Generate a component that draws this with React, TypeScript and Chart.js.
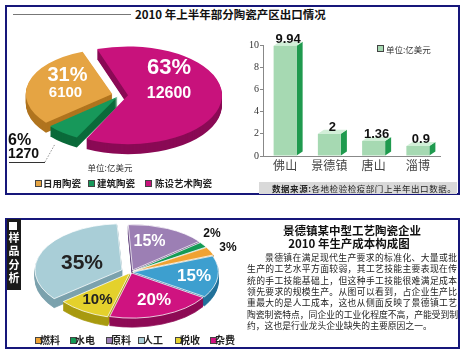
import React, { useEffect, useRef } from "react";
import { Chart, registerables } from "chart.js";

Chart.register(...registerables);

// ---------- data ----------
const exportCategories = ["日用陶瓷", "建筑陶瓷", "陈设艺术陶瓷"];
const exportValues = [6100, 1270, 12600];
const exportPercents = ["31%", "6%", "63%"];

const regions = ["佛山", "景德镇", "唐山", "淄博"];
const regionValues = [9.94, 2, 1.36, 0.9];
const regionTicks = [0, 2, 4, 6, 8, 10];

const costCategories = ["原料", "水电", "燃料", "其他", "杂费", "税收", "人工"];
const costValues = [15, 2, 3, 15, 20, 10, 35];
const costLegend = ["燃料", "水电", "原料", "人工", "税收", "杂费"];

const paragraph = [
  "景德镇在满足现代生产要求的标准化、大量或批",
  "生产的工艺水平方面较弱，其工艺技能主要表现在传",
  "统的手工技能基础上，但这种手工技能很难满足成本",
  "领先要求的规模生产。从图可以看到，占企业生产比",
  "重最大的是人工成本，这也从侧面反映了景德镇工艺",
  "陶瓷制瓷特点，同企业的工业化程度不高，产能受到制",
  "约，这也是行业龙头企业缺失的主要原因之一。",
];

// ---------- styles ----------
const CJK = '"Noto Sans CJK SC", "Noto Sans", sans-serif';
const NUM = '"Liberation Sans", Arial, sans-serif';
const NAVY = "#16177a";

const exportColors = ["#e5a443", "#17985a", "#c8127c"];
const exportSides = ["#b0741e", "#0b6a3a", "#8a0a55"];
const exportOffsets = [32, 16, 32];
const topOrder = [2, 1, 0];

const costColors: Record<string, string> = {
  原料: "#9c7fb4", 水电: "#139a55", 燃料: "#f0a232", 其他: "#3d9fcf",
  杂费: "#cf1380", 税收: "#e4d12c", 人工: "#a9ced7",
};
const costSides: Record<string, string> = {
  原料: "#6c4f86", 水电: "#0a6a38", 燃料: "#b67616", 其他: "#22719a",
  杂费: "#8e0b55", 税收: "#a89a10", 人工: "#7ba2ad",
};
const costOffsets: Record<string, number> = {
  原料: 16, 水电: 8, 燃料: 8, 其他: 8, 杂费: 8, 税收: 8, 人工: 40,
};

// ---------- plugins ----------
const pie3d = {
  id: "pie3d",
  beforeDatasetsDraw(chart: any, _args: any, opts: any) {
    const { ctx, chartArea } = chart;
    const cx = (chartArea.left + chartArea.right) / 2;
    const cy = (chartArea.top + chartArea.bottom) / 2;
    const sy = opts.scaleY;
    ctx.save();
    ctx.translate(cx, cy);
    ctx.scale(1, sy);
    ctx.translate(-cx, -cy);
    const meta = chart.getDatasetMeta(0);
    for (let d = opts.depth; d >= 1; d--) {
      ctx.save();
      ctx.translate(0, d / sy);
      meta.data.forEach((arc: any, i: number) => {
        const orig = arc.options;
        const c = opts.sideColors[i];
        arc.options = { ...orig, backgroundColor: c, borderColor: c };
        arc.draw(ctx);
        arc.options = orig;
      });
      ctx.restore();
    }
  },
  afterDatasetsDraw(chart: any) {
    chart.ctx.restore();
  },
};

const bar3d = {
  id: "bar3d",
  beforeDatasetsDraw(chart: any, _args: any, opts: any) {
    const ctx = chart.ctx;
    const meta = chart.getDatasetMeta(0);
    const { dx, dy } = opts;
    meta.data.forEach((bar: any) => {
      const { x, y, base, width } = bar.getProps(["x", "y", "base", "width"], true);
      const l = x - width / 2;
      const r = x + width / 2;
      ctx.save();
      ctx.fillStyle = opts.side;
      ctx.beginPath();
      ctx.moveTo(r, y);
      ctx.lineTo(r + dx, y - dy);
      ctx.lineTo(r + dx, base - dy);
      ctx.lineTo(r, base);
      ctx.closePath();
      ctx.fill();
      ctx.fillStyle = opts.top;
      ctx.beginPath();
      ctx.moveTo(l, y);
      ctx.lineTo(l + dx, y - dy);
      ctx.lineTo(r + dx, y - dy);
      ctx.lineTo(r, y);
      ctx.closePath();
      ctx.fill();
      ctx.restore();
    });
  },
  afterDatasetsDraw(chart: any, _args: any, opts: any) {
    const ctx = chart.ctx;
    const meta = chart.getDatasetMeta(0);
    const values = chart.data.datasets[0].data;
    ctx.save();
    ctx.font = `bold 13px ${NUM}`;
    ctx.fillStyle = "#111";
    ctx.textAlign = "center";
    ctx.textBaseline = "alphabetic";
    meta.data.forEach((bar: any, i: number) => {
      const { x, y } = bar.getProps(["x", "y"], true);
      ctx.fillText(String(values[i]), x + opts.dx / 2, y - 3);
    });
    ctx.restore();
  },
};

// ---------- components ----------
function ChartBox({ make, left, top, width, height }: any) {
  const ref = useRef<HTMLCanvasElement>(null);
  useEffect(() => {
    const chart = new Chart(ref.current as HTMLCanvasElement, make());
    return () => chart.destroy();
  }, []);
  return (
    <canvas
      ref={ref}
      width={width}
      height={height}
      style={{ position: "absolute", left, top, width, height, display: "block" }}
    />
  );
}

function Txt({ x, y, children, size = 10, color = "#111", weight = 400, family = NUM, anchor = "center", style }: any) {
  const tx = anchor === "center" ? "-50%" : anchor === "right" ? "-100%" : "0";
  return (
    <div
      style={{
        position: "absolute",
        left: x,
        top: y,
        transform: `translate(${tx}, -50%)`,
        fontSize: size,
        color,
        fontWeight: weight,
        fontFamily: family,
        whiteSpace: "nowrap",
        lineHeight: 1,
        ...style,
      }}
    >
      {children}
    </div>
  );
}

function Swatch({ x, y, color }: any) {
  return (
    <div
      style={{
        position: "absolute",
        left: x,
        top: y,
        width: 7,
        height: 7,
        background: color,
        boxSizing: "border-box",
        border: "1px solid #444",
      }}
    />
  );
}

const makeExportPie = () => ({
  type: "pie",
  data: {
    labels: topOrder.map((i) => exportCategories[i]),
    datasets: [
      {
        data: topOrder.map((i) => exportValues[i]),
        backgroundColor: topOrder.map((i) => exportColors[i]),
        offset: topOrder.map((i) => exportOffsets[i]),
        borderWidth: 0,
        radius: 86,
        clip: false,
      },
    ],
  },
  options: {
    responsive: false,
    animation: false,
    events: [],
    rotation: -20,
    layout: { padding: 0 },
    plugins: {
      legend: { display: false },
      tooltip: { enabled: false },
      pie3d: { scaleY: 0.52, depth: 10, sideColors: topOrder.map((i) => exportSides[i]) },
    },
  },
  plugins: [pie3d],
});

const makeCostPie = () => ({
  type: "pie",
  data: {
    labels: costCategories,
    datasets: [
      {
        data: costValues,
        backgroundColor: costCategories.map((c) => costColors[c]),
        offset: costCategories.map((c) => costOffsets[c]),
        borderWidth: 1,
        borderColor: "#ffffff",
        radius: 85,
        clip: false,
      },
    ],
  },
  options: {
    responsive: false,
    animation: false,
    events: [],
    rotation: -3,
    layout: { padding: 0 },
    plugins: {
      legend: { display: false },
      tooltip: { enabled: false },
      pie3d: { scaleY: 0.53, depth: 9, sideColors: costCategories.map((c) => costSides[c]) },
    },
  },
  plugins: [pie3d],
});

const makeBars = () => ({
  type: "bar",
  data: {
    labels: regions,
    datasets: [
      {
        data: regionValues,
        backgroundColor: "#a6d9b2",
        borderWidth: 0,
        barPercentage: 0.52,
        categoryPercentage: 1,
      },
    ],
  },
  options: {
    responsive: false,
    animation: false,
    events: [],
    layout: { padding: { top: 15, right: 10, left: 0, bottom: 0 } },
    plugins: {
      legend: { display: false },
      tooltip: { enabled: false },
      bar3d: { dx: 6, dy: 4, side: "#1f9a4e", top: "#d2efd8" },
    },
    scales: {
      x: {
        grid: { display: false, drawTicks: false },
        border: { display: true, color: "#888" },
        ticks: { font: { family: CJK, size: 12 }, color: "#444", padding: 2 },
        afterFit: (s: any) => {
          s.height = 24;
        },
      },
      y: {
        min: 0,
        max: 10,
        afterBuildTicks: (s: any) => {
          s.ticks = regionTicks.map((v) => ({ value: v }));
        },
        ticks: { font: { family: '"Liberation Serif", serif', size: 10 }, color: "#333", padding: 1 },
        grid: { drawOnChartArea: false, tickLength: 3, color: "#888" },
        border: { display: true, color: "#888" },
        afterFit: (s: any) => {
          s.width = 23;
        },
      },
    },
  },
  plugins: [bar3d],
});

export default function App() {
  const legendTop = [
    { sx: 35, tx: 43 },
    { sx: 88, tx: 97 },
    { sx: 145, tx: 155 },
  ];
  const legendBottomX = [35, 70, 106, 138, 175, 210];
  return (
    <div
      style={{
        position: "absolute",
        left: 0,
        top: 0,
        width: 466,
        height: 353,
        overflow: "hidden",
        background: "#fff",
        fontFamily: CJK,
      }}
    >
      {/* top frame */}
      <div
        style={{
          position: "absolute",
          left: 5,
          top: 5,
          width: 455,
          height: 190,
          boxSizing: "border-box",
          border: `2px solid ${NAVY}`,
        }}
      />
      <div style={{ position: "absolute", left: 13, top: 14, width: 118, height: 1, background: "#777" }} />
      <Txt x={135} y={15} size={11.5} weight={700} family={CJK} anchor="left" color="#111">
        2010 年上半年部分陶瓷产区出口情况
      </Txt>

      <ChartBox make={makeExportPie} left={0} top={-25} width={240} height={240} />

      <Txt x={169} y={66.5} size={22} weight={700} color="#fff">{exportPercents[2]}</Txt>
      <Txt x={169} y={92.5} size={16} weight={700} color="#fff">{exportValues[2]}</Txt>
      <Txt x={67.5} y={73.5} size={20} weight={700} color="#fff">{exportPercents[0]}</Txt>
      <Txt x={65.5} y={91} size={15} weight={700} color="#fff">{exportValues[0]}</Txt>
      <Txt x={8} y={140} size={16} weight={700} color="#111" anchor="left">{exportPercents[1]}</Txt>
      <Txt x={8} y={153} size={14} weight={700} color="#111" anchor="left">{exportValues[1]}</Txt>
      <div style={{ position: "absolute", left: 9, top: 162, width: 36, height: 1, background: "#333" }} />
      <svg style={{ position: "absolute", left: 0, top: 0 }} width={466} height={353}>
        <line x1={45} y1={162} x2={55} y2={144} stroke="#777" strokeWidth={0.8} strokeDasharray="1.5 1.5" />
      </svg>

      <Txt x={110} y={166.5} size={8.5} color="#333" family={CJK}>单位:亿美元</Txt>
      {exportCategories.map((c, i) => (
        <React.Fragment key={c}>
          <Swatch x={legendTop[i].sx} y={180} color={exportColors[i]} />
          <Txt x={legendTop[i].tx} y={183.5} size={9.5} weight={700} family={CJK} anchor="left" color="#222">
            {c}
          </Txt>
        </React.Fragment>
      ))}

      <ChartBox make={makeBars} left={240} top={30} width={210} height={150} />
      <Swatch x={377} y={45} color="#a6d9b2" />
      <Txt x={386} y={48.5} size={8.5} family={CJK} anchor="left" color="#333">单位:亿美元</Txt>

      <div style={{ position: "absolute", left: 259, top: 182, width: 198, height: 12, background: "#d9d9d9" }} />
      <Txt x={272} y={188} size={8.5} family={CJK} anchor="left" color="#222" style={{ letterSpacing: 0.55 }}>
        <span style={{ fontWeight: 700 }}>数据来源:</span>各地检验检疫部门上半年出口数据。
      </Txt>

      {/* bottom frame */}
      <div
        style={{
          position: "absolute",
          left: 5,
          top: 218,
          width: 455,
          height: 131,
          boxSizing: "border-box",
          border: `2px solid ${NAVY}`,
        }}
      />
      <div style={{ position: "absolute", left: 7, top: 219, width: 14, height: 71, background: "#1a1a1a" }} />
      <div style={{ position: "absolute", left: 9, top: 222, width: 8, height: 8, background: "#fff" }} />
      {["样", "品", "分", "析"].map((ch, i) => (
        <Txt key={ch} x={14} y={237 + i * 13.4} size={11} weight={700} family={CJK} color="#fff">
          {ch}
        </Txt>
      ))}

      <ChartBox make={makeCostPie} left={11} top={152} width={240} height={240} />

      <Txt x={82} y={260.5} size={21} weight={700} color="#222">{costValues[6]}%</Txt>
      <Txt x={149.5} y={241} size={16} weight={700} color="#fff">{costValues[0]}%</Txt>
      <Txt x={212} y={232.5} size={12} weight={700} color="#111">{costValues[1]}%</Txt>
      <Txt x={228} y={247} size={12} weight={700} color="#111">{costValues[2]}%</Txt>
      <Txt x={194} y={275} size={17} weight={700} color="#fff">{costValues[3]}%</Txt>
      <Txt x={154} y={298.5} size={17} weight={700} color="#fff">{costValues[4]}%</Txt>
      <Txt x={97.5} y={298} size={15} weight={700} color="#222">{costValues[5]}%</Txt>

      {costLegend.map((c, i) => (
        <React.Fragment key={c}>
          <Swatch x={legendBottomX[i]} y={336.5} color={costColors[c]} />
          <Txt x={legendBottomX[i] + 5} y={340} size={10} weight={700} family={CJK} anchor="left" color="#222">
            {c}
          </Txt>
        </React.Fragment>
      ))}

      <Txt x={352} y={231} size={11.5} weight={700} family={CJK} color="#111">景德镇某中型工艺陶瓷企业</Txt>
      <Txt x={349} y={244} size={11.5} weight={700} family={CJK} color="#111">2010 年生产成本构成图</Txt>

      {paragraph.map((line, i) => (
        <div
          key={i}
          style={{
            position: "absolute",
            left: 247,
            top: 258 + i * 11.3 - 6,
            width: 210,
            height: 12,
            lineHeight: "12px",
            fontSize: 8.8,
            fontFamily: CJK,
            color: "#222",
            whiteSpace: "nowrap",
            textAlign: i === paragraph.length - 1 ? "left" : "justify",
            textAlignLast: i === paragraph.length - 1 ? "left" : "justify",
            textIndent: i === 0 ? 18 : 0,
            overflow: "visible",
          }}
        >
          {line}
        </div>
      ))}
    </div>
  );
}
